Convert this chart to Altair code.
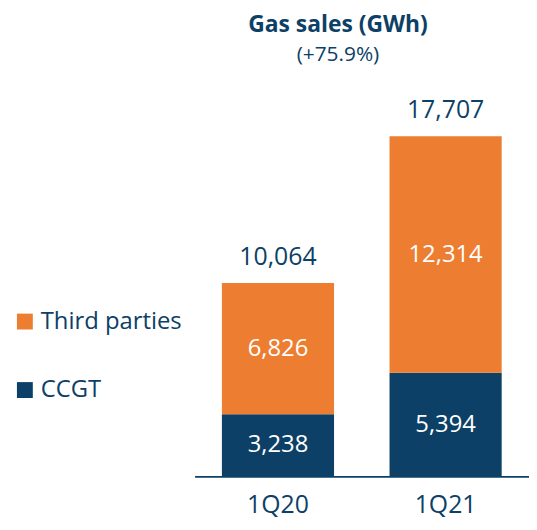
import altair as alt
import pandas as pd

quarters = ["1Q20", "1Q21"]
ccgt = [3238, 5394]
third = [6826, 12314]
totals = [10064, 17707]
series_names = ["Third parties", "CCGT"]

NAVY = "#0c4066"
ORANGE = "#ed7d31"
FONT = "Open Sans"

rows = []
for i, q in enumerate(quarters):
    rows.append({"q": q, "series": "CCGT", "value": ccgt[i], "ord": 0})
    rows.append({"q": q, "series": "Third parties", "value": third[i], "ord": 1})
df = pd.DataFrame(rows)
tot = pd.DataFrame({"q": quarters, "total": totals})

xenc = alt.X("q:N", sort=quarters, title=None,
             scale=alt.Scale(paddingInner=0.331, paddingOuter=0.163),
             axis=alt.Axis(labelAngle=0, labelFontSize=25, labelColor=NAVY, labelFont=FONT,
                           labelPadding=16, ticks=False, domainColor=NAVY, domainWidth=2,
                           grid=False))

bars = alt.Chart(df).mark_bar().encode(
    x=xenc,
    y=alt.Y("value:Q", stack="zero", scale=alt.Scale(domain=[0, 20000], nice=False),
            axis=None),
    color=alt.Color("series:N", sort=series_names,
                    scale=alt.Scale(domain=series_names, range=[ORANGE, NAVY]),
                    legend=alt.Legend(title=None, orient="none", legendX=-183, legendY=219,
                                      symbolType="square", symbolSize=256, symbolStrokeWidth=0,
                                      labelFontSize=24, labelColor=NAVY, labelFont=FONT,
                                      rowPadding=45, padding=0, labelOffset=4)),
    order=alt.Order("ord:Q"),
)

seg_labels = alt.Chart(df).mark_text(color="white", fontSize=24, font=FONT).encode(
    x=alt.X("q:N", sort=quarters),
    y=alt.Y("mid:Q"),
    text=alt.Text("value:Q", format=","),
).transform_stack(
    stack="value", groupby=["q"], as_=["y0", "y1"], sort=[alt.SortField("ord")]
).transform_calculate(mid="(datum.y0 + datum.y1) / 2")

tot_labels = alt.Chart(tot).mark_text(color=NAVY, fontSize=25, font=FONT,
                                      baseline="bottom", dy=-13).encode(
    x=alt.X("q:N", sort=quarters),
    y=alt.Y("total:Q"),
    text=alt.Text("total:Q", format=","),
)

chart = alt.layer(bars, seg_labels, tot_labels).properties(
    width=337, height=387,
    title=alt.TitleParams(text="Gas sales (GWh)", subtitle="(+75.9%)", anchor="middle",
                          dx=-24, fontSize=23, fontWeight="bold", color=NAVY, font=FONT,
                          subtitleFontSize=21, subtitleColor=NAVY, subtitleFont=FONT,
                          subtitlePadding=7, offset=28),
    autosize=alt.AutoSizeParams(type="none"),
    padding={"left": 188, "top": 83, "right": 0, "bottom": 44},
).configure_view(stroke=None)

chart.save("out.html", embed_options={"renderer": "svg", "actions": False})
